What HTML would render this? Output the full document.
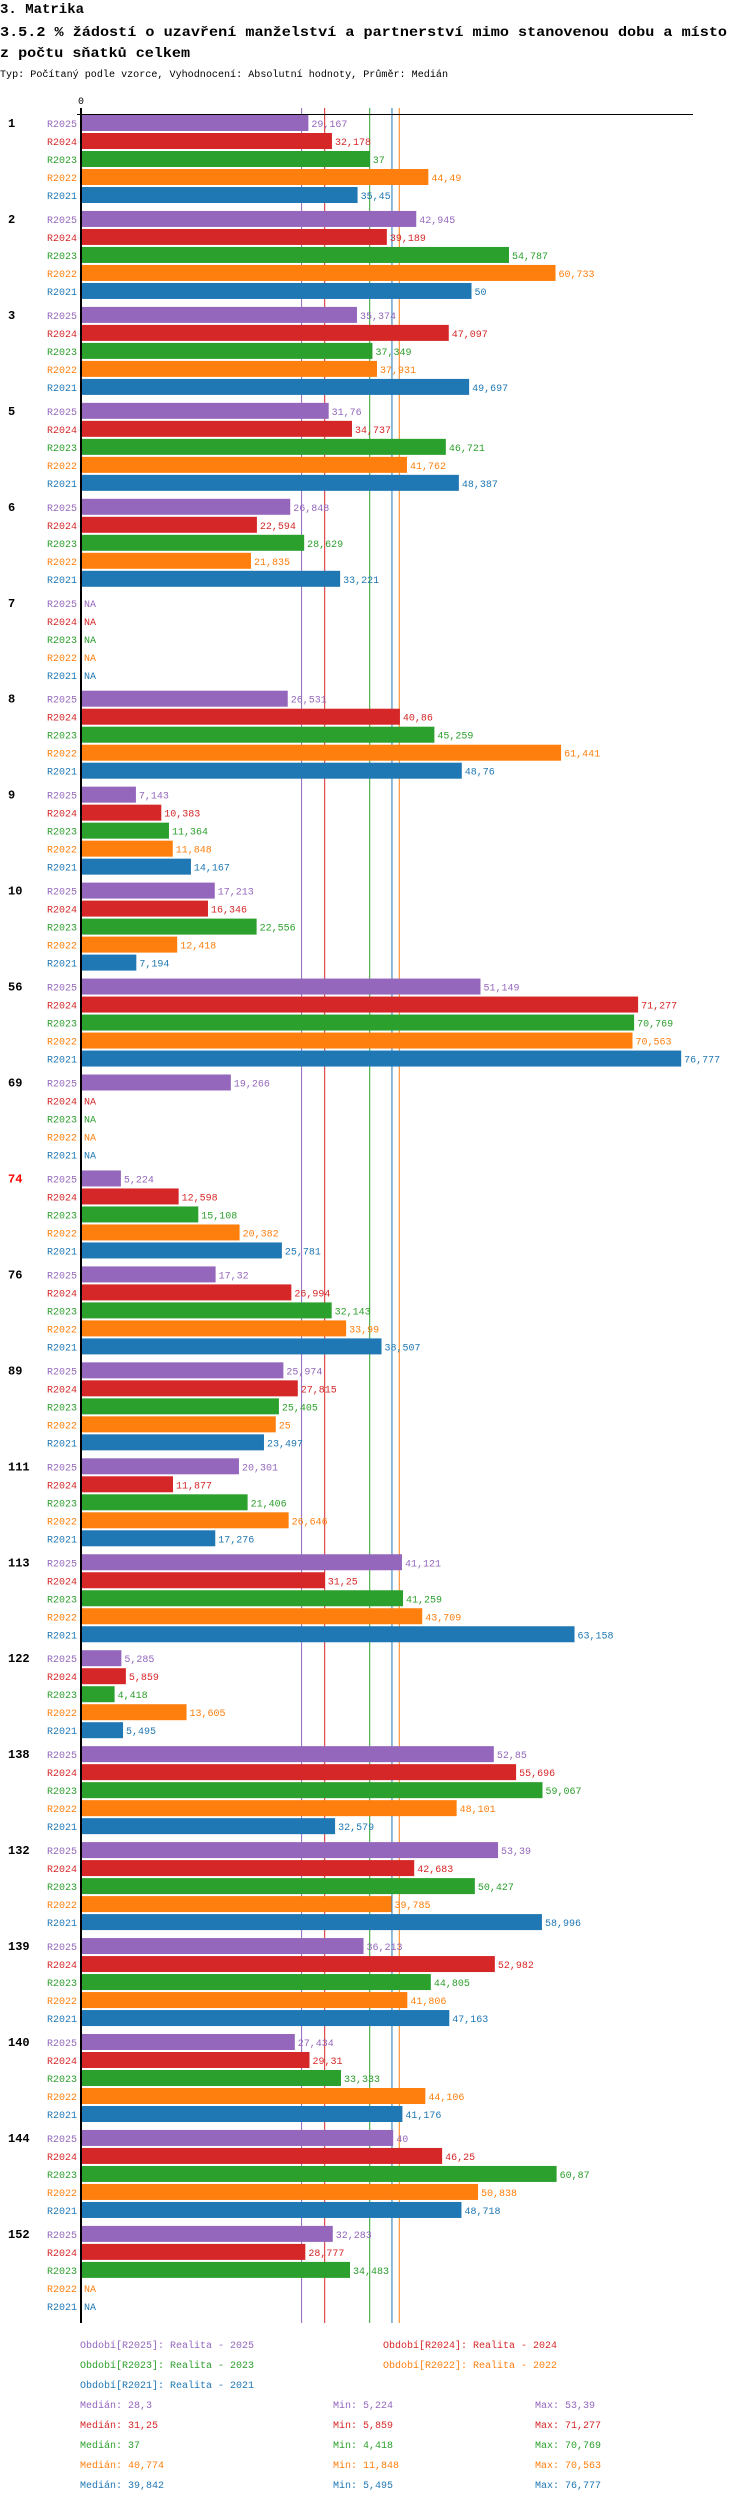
<!DOCTYPE html>
<html><head><meta charset="utf-8"><style>
body{margin:0;background:#fff}
svg{display:block}
text{font-family:"Liberation Mono","DejaVu Sans Mono",monospace}
</style></head><body>
<svg id="chart" width="750" height="2502" viewBox="0 0 750 2502" xmlns="http://www.w3.org/2000/svg">
<text x="0" y="13" font-size="14" font-weight="bold">3. Matrika</text>
<text x="0" y="36" font-size="14" font-weight="bold" textLength="727" lengthAdjust="spacingAndGlyphs">3.5.2 % žádostí o uzavření manželství a partnerství mimo stanovenou dobu a místo</text>
<text x="0" y="57" font-size="14" font-weight="bold" textLength="190" lengthAdjust="spacingAndGlyphs">z počtu sňatků celkem</text>
<text x="0" y="77" font-size="10" textLength="448" lengthAdjust="spacingAndGlyphs">Typ: Počítaný podle vzorce, Vyhodnocení: Absolutní hodnoty, Průměr: Medián</text>
<g id="plot"></g>
<g id="legend"></g>
</svg>
<script>
const categories = ["1","2","3","5","6","7","8","9","10","56","69","74","76","89","111","113","122","138","132","139","140","144","152"];
const seriesNames = ["R2025","R2024","R2023","R2022","R2021"];
const seriesColors = ["#9467bd","#d62728","#2ca02c","#ff7f0e","#1f77b4"];
const r2025 = [29.167,42.945,35.374,31.76,26.848,null,26.531,7.143,17.213,51.149,19.266,5.224,17.32,25.974,20.301,41.121,5.285,52.85,53.39,36.213,27.434,40,32.283];
const r2024 = [32.178,39.189,47.097,34.737,22.594,null,40.86,10.383,16.346,71.277,null,12.598,26.994,27.815,11.877,31.25,5.859,55.696,42.683,52.982,29.31,46.25,28.777];
const r2023 = [37,54.787,37.349,46.721,28.629,null,45.259,11.364,22.556,70.769,null,15.108,32.143,25.405,21.406,41.259,4.418,59.067,50.427,44.805,33.333,60.87,34.483];
const r2022 = [44.49,60.733,37.931,41.762,21.835,null,61.441,11.848,12.418,70.563,null,20.382,33.99,25,26.646,43.709,13.605,48.101,39.785,41.806,44.106,50.838,null];
const r2021 = [35.45,50,49.697,48.387,33.221,null,48.76,14.167,7.194,76.777,null,25.781,38.507,23.497,17.276,63.158,5.495,32.579,58.996,47.163,41.176,48.718,null];
const medians = [28.3,31.25,37,40.774,39.842];
const mins = [5.224,5.859,4.418,11.848,5.495];
const maxs = [53.39,71.277,70.769,70.563,76.777];
const legendLabels = ["Období[R2025]: Realita - 2025","Období[R2024]: Realita - 2024","Období[R2023]: Realita - 2023","Období[R2022]: Realita - 2022","Období[R2021]: Realita - 2021"];
const highlighted = ["74"];

const series = [r2025,r2024,r2023,r2022,r2021];
const NS = "http://www.w3.org/2000/svg";
const X0 = 80, PX = 7.83, TOP = 115, GROUP = 95.95, ROW = 18, BARH = 16;
const x = v => X0 + v * PX;
const rowY = (g, s) => TOP + g * GROUP + s * ROW;
const fmt = v => String(v).replace('.', ',');
const plot = document.getElementById('plot');
const legend = document.getElementById('legend');
function mk(tag, attrs, parent, txt){
  const e = document.createElementNS(NS, tag);
  for (const k in attrs) e.setAttribute(k, attrs[k]);
  if (txt !== undefined) e.textContent = txt;
  parent.appendChild(e); return e;
}
const bottom = 2323;
medians.forEach((m, i) => {
  const l = mk('line', {x1:x(m), x2:x(m), y1:108, y2:bottom, stroke:seriesColors[i], 'stroke-width':1}, plot);
  
  
});
const ax = mk('line', {x1:77, x2:693, y1:114.5, y2:114.5, stroke:'#000', 'stroke-width':1}, plot);


const ay = mk('line', {x1:81, x2:81, y1:108, y2:bottom, stroke:'#000', 'stroke-width':2}, plot);


const z = mk('text', {x:81, y:104, 'font-size':10, 'text-anchor':'middle'}, plot, '0');



categories.forEach((c, g) => {
  const gl = mk('text', {x:8, y:rowY(g,0)+12, 'font-size':12, 'font-weight':'bold', fill: highlighted.includes(c) ? '#ff0000' : '#000'}, plot, c);
  
  
  series.forEach((arr, s) => {
    const y = rowY(g, s);
    const v = arr[g];
    const sl = mk('text', {x:77, y:y+12, 'font-size':10, 'text-anchor':'end', fill:seriesColors[s]}, plot, seriesNames[s]);
    
    
    if (v === null) {
      const na = mk('text', {x:84, y:y+12, 'font-size':10, fill:seriesColors[s]}, plot, 'NA');
      
      
      return;
    }
    const b = mk('rect', {x:82, y:y, width:Math.max(0, x(v)-82), height:BARH, fill:seriesColors[s]}, plot);
    
    
    const vl = mk('text', {x:x(v)+3, y:y+12, 'font-size':10, fill:seriesColors[s]}, plot, fmt(v));
    
    
  });
});

const legPos = [[80,2348],[383,2348],[80,2368],[383,2368],[80,2388]];
legendLabels.forEach((t, i) => {
  const e = mk('text', {x:legPos[i][0], y:legPos[i][1], 'font-size':10, fill:seriesColors[i]}, legend, t);
  
  
});
seriesNames.forEach((n, i) => {
  const y = 2408 + i * 20;
  const a = mk('text', {x:80, y:y, 'font-size':10, fill:seriesColors[i]}, legend, 'Medián: ' + fmt(medians[i]));
  
  
  const b = mk('text', {x:333, y:y, 'font-size':10, fill:seriesColors[i]}, legend, 'Min: ' + fmt(mins[i]));
  
  
  const d = mk('text', {x:535, y:y, 'font-size':10, fill:seriesColors[i]}, legend, 'Max: ' + fmt(maxs[i]));
  
  
});
</script>
</body></html>
